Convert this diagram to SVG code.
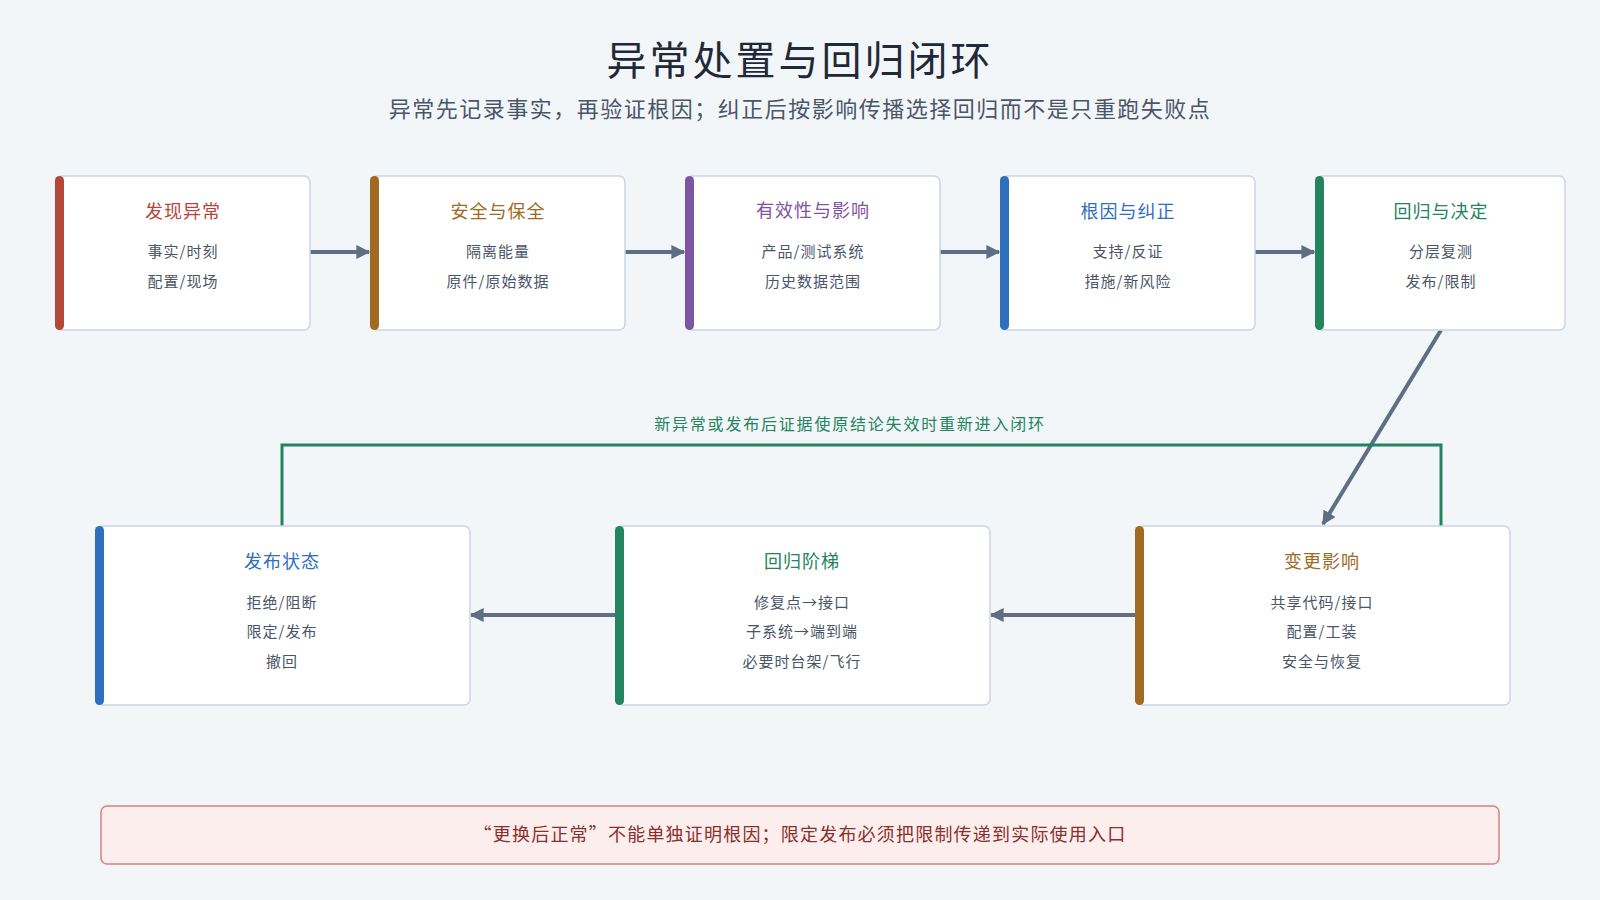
<svg xmlns="http://www.w3.org/2000/svg" width="1600" height="900" viewBox="0 0 1600 900">
<defs>
<style>
text{font-family:"Noto Sans CJK SC","Noto Sans",sans-serif;text-anchor:middle}
.box{fill:#fff;stroke:#cbd5e1;stroke-width:1.5}
.t{font-size:18px;letter-spacing:1px}
.l{font-size:15px;fill:#4a5568;letter-spacing:1px}
.c{stroke:#5f6e85;stroke-width:4;fill:none;marker-end:url(#a)}
</style>
<marker id="a" viewBox="0 0 10 10" refX="9" refY="5" markerWidth="3.5" markerHeight="3.5" orient="auto"><path d="M0,0L10,5L0,10z" fill="#5f6e85"/></marker>
</defs>
<rect width="1600" height="900" fill="#f2f6f9"/>
<text x="800" y="75" font-size="40" fill="#1f2937" letter-spacing="3">异常处置与回归闭环</text>
<text x="800" y="117" font-size="22" fill="#4a5568" letter-spacing="1.5">异常先记录事实，再验证根因；纠正后按影响传播选择回归而不是只重跑失败点</text>
<g id="connectors">
<path class="c" d="M309,252H369"/>
<path class="c" d="M624,252H684"/>
<path class="c" d="M939,252H999"/>
<path class="c" d="M1254,252H1314"/>
<path class="c" d="M1441,330L1323,524"/>
<path class="c" d="M1136,615H991"/>
<path class="c" d="M616,615H471"/>
<path d="M1441,526V445H282V526" fill="none" stroke="#23845e" stroke-width="3"/>
<text x="850" y="430" font-size="16" fill="#23845e" letter-spacing="1.8">新异常或发布后证据使原结论失效时重新进入闭环</text>
</g>
<g id="n1"><rect class="box" x="56" y="176" width="254" height="154" rx="6"/><rect x="55" y="176" width="9" height="154" rx="4.5" fill="#b5473a"/><text class="t" x="183" y="218" fill="#b5473a">发现异常</text><text class="l" x="183" y="257">事实/时刻</text><text class="l" x="183" y="287">配置/现场</text></g>
<g id="n2"><rect class="box" x="371" y="176" width="254" height="154" rx="6"/><rect x="370" y="176" width="9" height="154" rx="4.5" fill="#a06a22"/><text class="t" x="498" y="218" fill="#a06a22">安全与保全</text><text class="l" x="498" y="257">隔离能量</text><text class="l" x="498" y="287">原件/原始数据</text></g>
<g id="n3"><rect class="box" x="686" y="176" width="254" height="154" rx="6"/><rect x="685" y="176" width="9" height="154" rx="4.5" fill="#7f54a3"/><text class="t" x="813" y="217" fill="#7f54a3">有效性与影响</text><text class="l" x="813" y="257">产品/测试系统</text><text class="l" x="813" y="287">历史数据范围</text></g>
<g id="n4"><rect class="box" x="1001" y="176" width="254" height="154" rx="6"/><rect x="1000" y="176" width="9" height="154" rx="4.5" fill="#2f6fbf"/><text class="t" x="1128" y="218" fill="#2f6fbf">根因与纠正</text><text class="l" x="1128" y="257">支持/反证</text><text class="l" x="1128" y="287">措施/新风险</text></g>
<g id="n5"><rect class="box" x="1316" y="176" width="249" height="154" rx="6"/><rect x="1315" y="176" width="9" height="154" rx="4.5" fill="#23845e"/><text class="t" x="1441" y="218" fill="#23845e">回归与决定</text><text class="l" x="1441" y="257">分层复测</text><text class="l" x="1441" y="287">发布/限制</text></g>
<g id="n6"><rect class="box" x="97" y="526" width="373" height="179" rx="6"/><rect x="95" y="526" width="9" height="179" rx="4.5" fill="#2f6fbf"/><text class="t" x="282" y="568" fill="#2f6fbf" font-size="19">发布状态</text><text class="l" x="282" y="608" font-size="16">拒绝/阻断</text><text class="l" x="282" y="637" font-size="16">限定/发布</text><text class="l" x="282" y="667" font-size="16">撤回</text></g>
<g id="n7"><rect class="box" x="617" y="526" width="373" height="179" rx="6"/><rect x="615" y="526" width="9" height="179" rx="4.5" fill="#23845e"/><text class="t" x="802" y="568" fill="#23845e" font-size="19">回归阶梯</text><text class="l" x="802" y="608" font-size="16">修复点→接口</text><text class="l" x="802" y="637" font-size="16">子系统→端到端</text><text class="l" x="802" y="667" font-size="16">必要时台架/飞行</text></g>
<g id="n8"><rect class="box" x="1137" y="526" width="373" height="179" rx="6"/><rect x="1135" y="526" width="9" height="179" rx="4.5" fill="#a06a22"/><text class="t" x="1322" y="568" fill="#a06a22" font-size="19">变更影响</text><text class="l" x="1322" y="608" font-size="16">共享代码/接口</text><text class="l" x="1322" y="637" font-size="16">配置/工装</text><text class="l" x="1322" y="667" font-size="16">安全与恢复</text></g>
<g id="note"><rect x="101" y="806" width="1398" height="58" rx="6" fill="#fdeeee" stroke="#d98080" stroke-width="1.5"/><text x="800" y="841" font-size="18" fill="#8a2f2a" letter-spacing="1.2">“更换后正常”不能单独证明根因；限定发布必须把限制传递到实际使用入口</text></g>
</svg>
